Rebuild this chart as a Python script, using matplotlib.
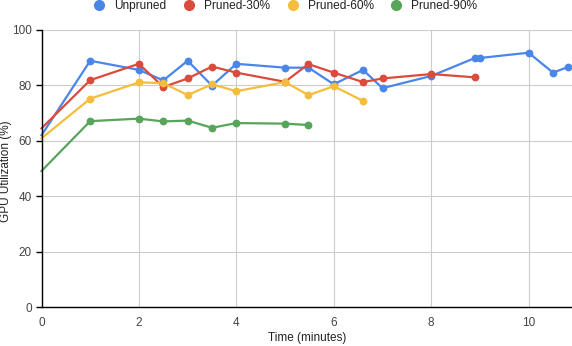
import matplotlib
matplotlib.use("Agg")
import matplotlib.pyplot as plt
from matplotlib.lines import Line2D

plt.rcParams['font.family'] = ['Liberation Sans', 'DejaVu Sans']

series_names = ["Unpruned", "Pruned-30%", "Pruned-60%", "Pruned-90%"]
colors = ["#4a86e8", "#db4b3c", "#f4be3c", "#57a55a"]

unpruned_x = [0, 1, 2, 2.5, 3, 3.5, 4, 5, 5.48, 6.0, 6.6, 7.0, 8.0, 8.9, 9.0, 10.0, 10.5, 10.8]
unpruned_y = [62.0, 88.9, 85.6, 81.8, 88.9, 79.9, 87.8, 86.4, 86.4, 80.4, 85.6, 79.0, 83.4, 89.9, 89.9, 91.8, 84.6, 86.6]

p30_x = [0, 1, 2, 2.5, 3, 3.5, 4, 5, 5.48, 6.0, 6.6, 7.0, 8.0, 8.9]
p30_y = [64.5, 81.9, 87.8, 79.4, 82.5, 86.8, 84.6, 81.3, 87.7, 84.6, 81.2, 82.5, 84.1, 82.9]

p60_x = [0, 1, 2, 2.5, 3, 3.5, 4, 5, 5.48, 6.0, 6.6]
p60_y = [60.9, 75.2, 81.1, 80.8, 76.5, 80.4, 77.9, 81.2, 76.5, 79.7, 74.4]

p90_x = [0, 1, 2, 2.5, 3, 3.5, 4, 5, 5.48]
p90_y = [49.1, 67.1, 68.0, 67.0, 67.3, 64.7, 66.4, 66.2, 65.7]

xticks = [0, 2, 4, 6, 8, 10]
yticks = [0, 20, 40, 60, 80, 100]

fig = plt.figure(figsize=(5.72, 3.46), dpi=100)
ax = fig.add_axes([41.5/572, 1-307/346, (572-41.5)/572, (307-30)/346])

data = [(unpruned_x, unpruned_y), (p30_x, p30_y), (p60_x, p60_y), (p90_x, p90_y)]
for (xs, ys), c, n in zip(data, colors, series_names):
    ax.plot(xs, ys, color=c, lw=1.6, marker='o', ms=4.6, markevery=list(range(1, len(xs))),
            label=n, solid_joinstyle='round', clip_on=False, zorder=3)

ax.set_xlim(0, 10.89)
ax.set_ylim(0, 100)
ax.set_xticks(xticks)
ax.set_yticks(yticks)
ax.grid(True, color='#cccccc', lw=0.8)
ax.set_axisbelow(True)
for s in ['top', 'right']:
    ax.spines[s].set_visible(False)
for s in ['left', 'bottom']:
    ax.spines[s].set_color('black')
    ax.spines[s].set_linewidth(1.0)
    ax.spines[s].set_zorder(4)
ax.tick_params(axis='x', length=0, pad=7, labelsize=8.5, labelcolor='#444444')
ax.tick_params(axis='y', length=4.5, width=1.0, color='black', pad=2.5, labelsize=8.5, labelcolor='#444444')
ax.set_xlabel("Time (minutes)", fontsize=8.5, color='#222222', labelpad=2)
ax.set_ylabel("GPU Utilization (%)", fontsize=8.5, color='#222222', va='center')
ax.yaxis.set_label_coords((6 - 41.5) / 530.5, 0.49)

handles = [Line2D([], [], ls='none', marker='o', ms=7, color=c) for c in colors]
fig.legend(handles, series_names, loc='upper center', bbox_to_anchor=(0.5, 1.03), ncol=4,
           frameon=False, fontsize=8.6, handlelength=0.8, handletextpad=0.85,
           columnspacing=1.5, labelcolor='#222222')

fig.savefig("out.png", dpi=100)
